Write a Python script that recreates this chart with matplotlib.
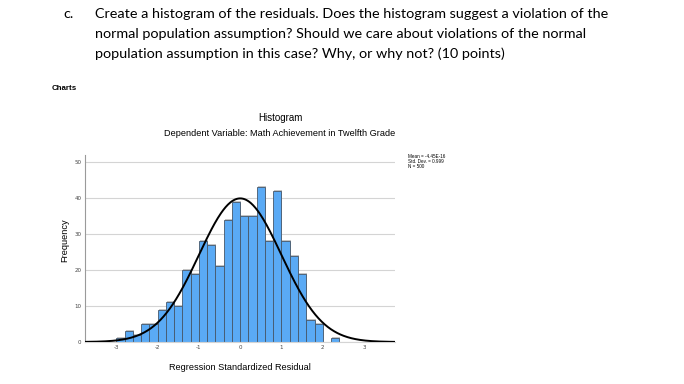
import numpy as np
import matplotlib
matplotlib.use("Agg")
import matplotlib.pyplot as plt
import matplotlib.transforms as mtransforms

# histogram of residuals (bin edges and counts)
bin_edges = [-3.0, -2.8, -2.6, -2.4, -2.2, -2.0, -1.8, -1.6, -1.4, -1.2, -1.0,
             -0.8, -0.6, -0.4, -0.2, 0.0, 0.2, 0.4, 0.6, 0.8, 1.0, 1.2, 1.4,
             1.6, 1.8, 2.0, 2.2, 2.4]
counts = [1, 3, 2, 5, 5, 9, 11, 10, 20, 19, 28, 27, 21, 34, 39, 35, 35, 43,
          28, 42, 28, 24, 19, 6, 5, 0, 1]

mean_val = -4.45e-16
std_val = 0.999
n_obs = 500

yticks = [0, 10, 20, 30, 40, 50]
xticks = [-3, -2, -1, 0, 1, 2, 3]

question_lines = [
    "Create a histogram of the residuals. Does the histogram suggest a violation of the",
    "normal population assumption? Should we care about violations of the normal",
    "population assumption in this case? Why, or why not? (10 points)",
]

fig = plt.figure(figsize=(6.84, 3.84), dpi=100)
fig.patch.set_facecolor("white")

# header text, one line at a time
fig.text(63 / 684, 1 - 14 / 384, "c.", fontsize=10.4, family="Lato", va="center")
for i, line in enumerate(question_lines):
    fig.text(95 / 684, 1 - (14 + 19.7 * i) / 384, line, fontsize=10.4, family="Lato",
             va="center")
fig.text(52 / 684, 1 - 88 / 384, "Charts", fontsize=5.7, family="Liberation Sans",
         weight="bold", va="center")

fig.text(280 / 684, 1 - 118 / 384, "Histogram", fontsize=7, family="Liberation Sans",
         ha="center", va="center")
fig.text(280 / 684, 1 - 133 / 384, "Dependent Variable: Math Achievement in Twelfth Grade",
         fontsize=6.6, family="Liberation Sans", ha="center", va="center")

ax = fig.add_axes([85 / 684, 1 - 342 / 384, 310 / 684, 187 / 384])

edges = np.array(bin_edges)
widths = np.diff(edges)

# light grey drop shadow like the SPSS output
shadow = mtransforms.offset_copy(ax.transData, fig=fig, x=1.0, y=1.0, units="dots")
ax.bar(edges[:-1], counts, width=widths, align="edge", color="#c4c4c4",
       linewidth=0, zorder=1.5, transform=shadow)
ax.bar(edges[:-1], counts, width=widths, align="edge", color="#5aaaf5",
       edgecolor="#46576a", linewidth=0.6, zorder=2)

# normal curve from mean / std / N
xs = np.linspace(-3.8, 3.8, 400)
bw = widths[0]
ys = n_obs * bw * np.exp(-0.5 * ((xs - mean_val) / std_val) ** 2) / (std_val * np.sqrt(2 * np.pi))
ax.plot(xs, ys, color="black", linewidth=1.4, zorder=3)

ax.set_xlim(-3.76, 3.75)
ax.set_ylim(0, 52)
ax.set_xticks(xticks)
ax.set_yticks(yticks)
ax.set_xticklabels([str(t) for t in xticks])
ax.tick_params(length=0, labelsize=4, colors="#444444", pad=2.5)
ax.grid(axis="y", color="#d4d4d4", linewidth=0.8, zorder=0)
for s in ["top", "right"]:
    ax.spines[s].set_visible(False)
ax.spines["left"].set_color("#9a9a9a")
ax.spines["left"].set_linewidth(0.8)
ax.spines["bottom"].set_color("#d4d4d4")
ax.spines["bottom"].set_linewidth(0.8)

ax.set_ylabel("Frequency", fontsize=6.7, family="Liberation Sans")
ax.yaxis.set_label_coords(-16 / 310, (342 - 240) / 187)
ax.set_xlabel("Regression Standardized Residual", fontsize=6.6, family="Liberation Sans")
ax.xaxis.set_label_coords((240 - 85) / 310, -(363 - 342) / 187)

fig.text(408 / 684, 1 - 154 / 384,
         "Mean = -4.45E-16\nStd. Dev. = 0.999\nN = 500",
         fontsize=3.3, family="Liberation Sans", va="top", linespacing=0.95)

fig.savefig("out.png", dpi=100, facecolor="white")
